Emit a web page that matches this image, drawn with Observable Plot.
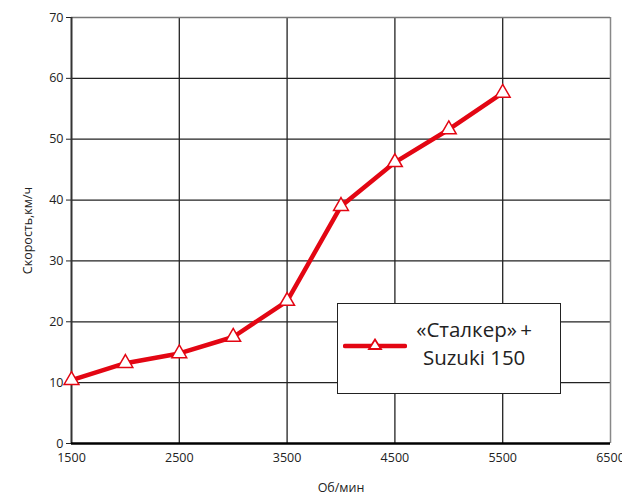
<!DOCTYPE html>
<html><head><meta charset="utf-8">
<script src="https://cdn.jsdelivr.net/npm/d3@7"></script>
<script src="https://cdn.jsdelivr.net/npm/@observablehq/plot@0.6"></script>
<style>
body{margin:0;background:#fff;}
#wrap{position:relative;width:622px;height:499px;font-family:"Open Sans",sans-serif;}
#legend{position:absolute;left:337px;top:303px;width:224px;height:91px;border:1.5px solid #222;background:#fff;box-sizing:border-box;}
#legend .txt{position:absolute;right:28px;top:11px;text-align:center;font-size:20.5px;line-height:28px;color:#222;}
#legend svg{position:absolute;left:5px;top:34px;}
</style></head>
<body><div id="wrap"></div>
<script>
const rpm = [1500, 2000, 2500, 3000, 3500, 4000, 4500, 5000, 5500];
const speed = [10.4, 13.2, 14.8, 17.5, 23.4, 39.0, 46.2, 51.6, 57.6];
const xTicks = [1500, 2500, 3500, 4500, 5500, 6500];
const yTicks = [0, 10, 20, 30, 40, 50, 60, 70];
const seriesName = ["«Сталкер»\u2009+", "Suzuki 150"];
const red = "#e30613";

const data = rpm.map((r, i) => ({rpm: r, speed: speed[i]}));

const plot = Plot.plot({
  width: 622, height: 499,
  marginLeft: 71, marginRight: 12, marginTop: 17, marginBottom: 56,
  style: {fontFamily: "'Open Sans', sans-serif", fontSize: "12.5px", color: "#222", background: "#fff"},
  x: {domain: [1500, 6500]},
  y: {domain: [0, 70]},
  marks: [
    Plot.ruleX(xTicks.slice(1, -1), {stroke: "#222", strokeWidth: 1.3}),
    Plot.ruleY(yTicks.slice(1, -1), {stroke: "#222", strokeWidth: 1.3}),
    Plot.ruleX([6500], {stroke: "#888", strokeWidth: 1.5}),
    Plot.ruleY([70], {stroke: "#777", strokeWidth: 1.5}),
    Plot.ruleX([1500], {stroke: "#333", strokeWidth: 2}),
    Plot.ruleY([0], {stroke: "#000", strokeWidth: 2.5}),
    Plot.axisX({ticks: xTicks, tickSize: 0, tickPadding: 10, tickFormat: d => String(d), label: "Об/мин", labelAnchor: "center", labelOffset: 48, labelArrow: "none"}),
    Plot.axisY({ticks: yTicks, tickSize: 5, tickPadding: 3, label: "Скорость,км/ч", labelAnchor: "center", labelOffset: 48, labelArrow: "none"}),
    Plot.line(data, {x: "rpm", y: "speed", stroke: red, strokeWidth: 4.5}),
    Plot.dot(data, {x: "rpm", y: "speed", symbol: "triangle", r: 5.5, fill: "#fff", stroke: red, strokeWidth: 1.5})
  ]
});
const wrap = document.getElementById("wrap");
wrap.appendChild(plot);

const leg = document.createElement("div");
leg.id = "legend";
leg.innerHTML = `<svg width="64" height="16"><line x1="2" y1="8" x2="62" y2="8" stroke="${red}" stroke-width="4.5" stroke-linecap="round"/><path d="M32,1.5 L38,11 L26,11 Z" fill="#fff" stroke="${red}" stroke-width="1.8"/></svg><div class="txt">${seriesName.join("<br>")}</div>`;
wrap.appendChild(leg);
</script></body></html>
